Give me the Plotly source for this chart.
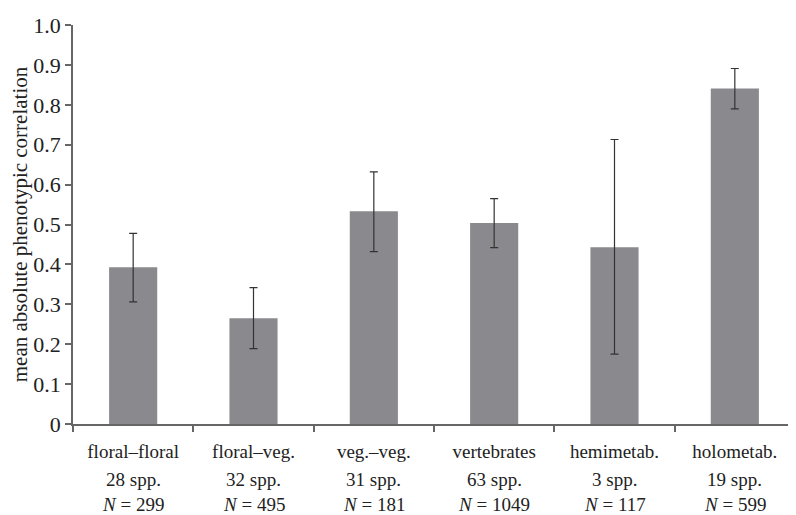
import plotly.graph_objects as go

categories = ["floral–floral", "floral–veg.", "veg.–veg.", "vertebrates", "hemimetab.", "holometab."]
species = ["28 spp.", "32 spp.", "31 spp.", "63 spp.", "3 spp.", "19 spp."]
n_values = ["299", "495", "181", "1049", "117", "599"]
means = [0.393, 0.265, 0.533, 0.504, 0.443, 0.841]
err_plus = [0.085, 0.077, 0.099, 0.061, 0.270, 0.050]
err_minus = [0.087, 0.076, 0.101, 0.062, 0.268, 0.051]
y_ticks = [0, 0.1, 0.2, 0.3, 0.4, 0.5, 0.6, 0.7, 0.8, 0.9, 1.0]
y_ticktext = ["0", "0.1", "0.2", "0.3", "0.4", "0.5", "0.6", "0.7", "0.8", "0.9", "1.0"]

FONT = "Liberation Serif, Times New Roman, serif"
TXT = "#222222"

fig = go.Figure()
fig.add_trace(go.Bar(
    x=categories, y=means, width=0.4,
    marker=dict(color="#8a8a8e", line=dict(width=0)),
    error_y=dict(type="data", symmetric=False, array=err_plus, arrayminus=err_minus,
                 color="#333333", thickness=1.2, width=4),
))

annotations = []
for c, s, n in zip(categories, species, n_values):
    annotations.append(dict(x=c, xref="x", y=-0.138, yref="paper", text=s, showarrow=False,
                            font=dict(family=FONT, size=19, color=TXT), yanchor="middle"))
    annotations.append(dict(x=c, xref="x", y=-0.2015, yref="paper", text=f"<i>N</i> = {n}", showarrow=False,
                            font=dict(family=FONT, size=19, color=TXT), yanchor="middle"))

fig.update_layout(
    width=796, height=515,
    margin=dict(l=65, r=9, t=5, b=99),
    plot_bgcolor="white", paper_bgcolor="white",
    showlegend=False,
    font=dict(family=FONT, size=19, color=TXT),
    annotations=annotations,
    xaxis=dict(
        type="category", showline=True, linecolor="#666", linewidth=1.5,
        ticks="outside", tickson="boundaries", ticklen=6, tickcolor="#666", tickwidth=1.5,
        tickfont=dict(family=FONT, size=19, color=TXT), ticklabelstandoff=9,
        showgrid=False, zeroline=False,
    ),
    yaxis=dict(
        range=[0, 1.0], tickvals=y_ticks, ticktext=y_ticktext,
        showline=True, linecolor="#666", linewidth=1.5,
        ticks="outside", ticklen=6, tickcolor="#666", tickwidth=1.5,
        tickfont=dict(family=FONT, size=22, color=TXT), ticklabeloverflow="allow",
        showgrid=False, zeroline=False,
        title=dict(text="mean absolute phenotypic correlation", standoff=4,
                   font=dict(family=FONT, size=21, color=TXT)),
    ),
)

fig.write_html("out.html")
